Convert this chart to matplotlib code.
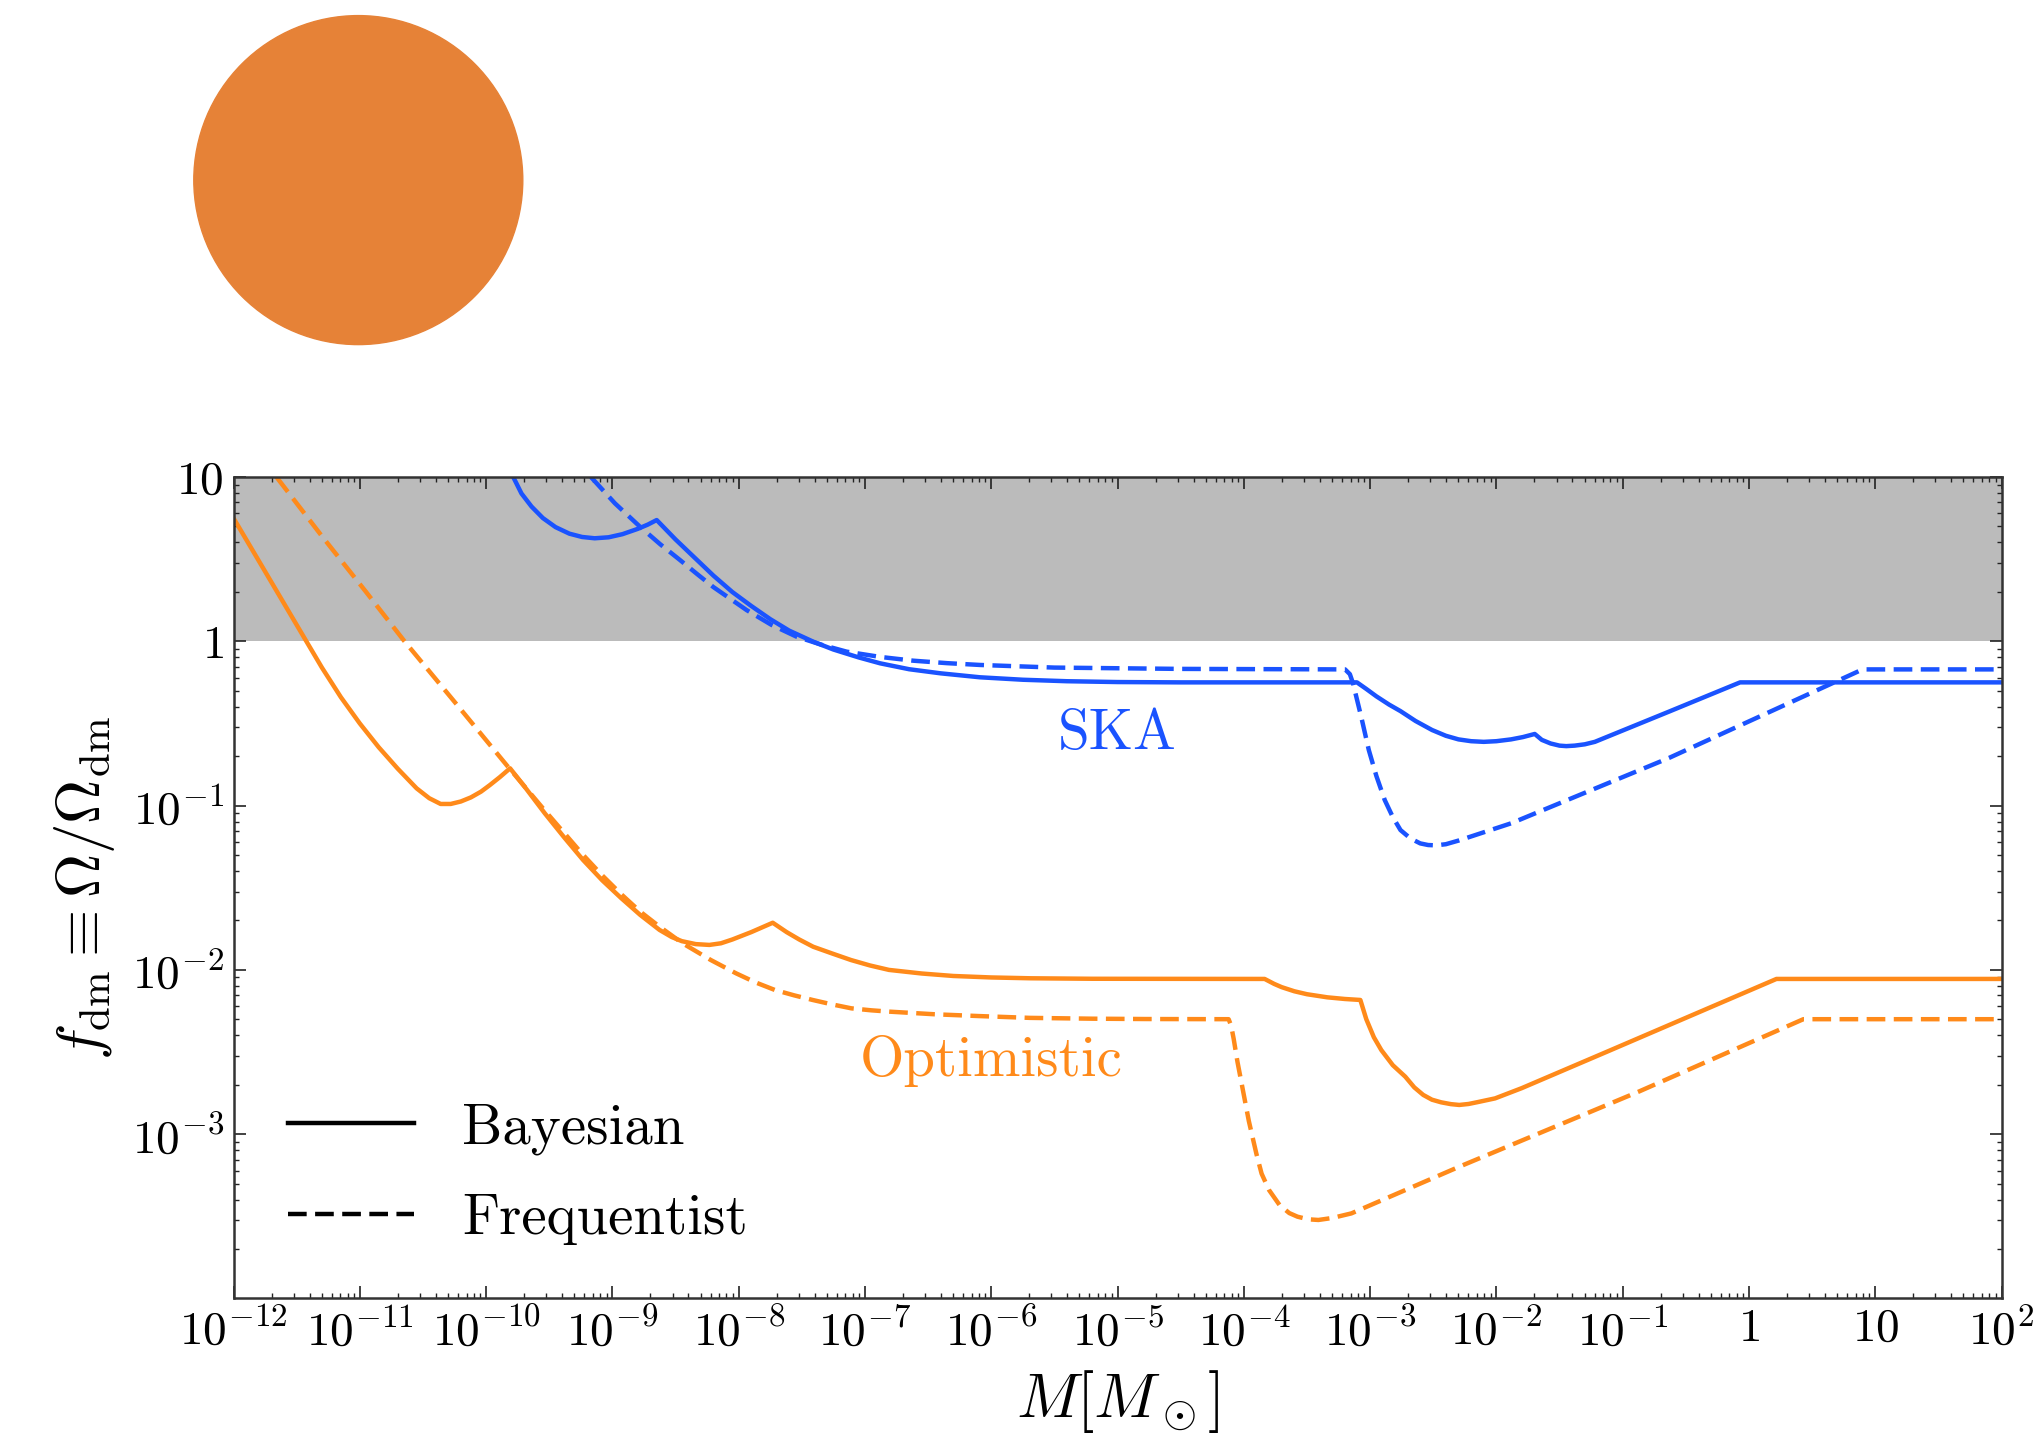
import numpy as np
import matplotlib
matplotlib.use("Agg")
import matplotlib.pyplot as plt
from matplotlib.lines import Line2D
from matplotlib.patches import Ellipse
from matplotlib.ticker import LogLocator, NullFormatter

plt.rcParams["font.family"] = "serif"
plt.rcParams["font.serif"] = ["cmr10"]
plt.rcParams["mathtext.fontset"] = "cm"
plt.rcParams["axes.unicode_minus"] = False
plt.rcParams["axes.formatter.use_mathtext"] = True

# ---- data: log10(M / M_sun) and log10(f_dm) along each bound ----
ska_bayes_logM = [-9.785, -9.72, -9.64, -9.55, -9.45, -9.34, -9.24, -9.14,
                  -9.03, -8.92, -8.80, -8.72, -8.649,
                  -8.50, -8.35, -8.20, -8.05, -7.90, -7.75, -7.60, -7.41,
                  -7.25, -7.05, -6.88, -6.65, -6.40, -6.09, -5.75, -5.40,
                  -5.00, -4.50, -3.104,
                  -3.03, -2.95, -2.85, -2.759, -2.64, -2.509, -2.40, -2.30,
                  -2.20, -2.10, -2.00, -1.884, -1.79, -1.696,
                  -1.64, -1.57, -1.50, -1.446, -1.38, -1.30, -1.22,
                  -0.633, -0.070, 2.0]
ska_bayes_logf = [1.0, 0.90, 0.82, 0.75, 0.695, 0.655, 0.635, 0.627,
                  0.633, 0.652, 0.684, 0.71, 0.738,
                  0.62, 0.51, 0.40, 0.30, 0.215, 0.135, 0.065, -0.002,
                  -0.05, -0.098, -0.134, -0.17, -0.195, -0.219, -0.234, -0.243,
                  -0.248, -0.25, -0.25,
                  -0.29, -0.335, -0.385, -0.425, -0.485, -0.54, -0.575, -0.597,
                  -0.608, -0.612, -0.608, -0.597, -0.583, -0.564,
                  -0.600, -0.622, -0.635, -0.638, -0.635, -0.627, -0.612,
                  -0.428, -0.250, -0.250]

ska_freq_logM = [-9.17, -8.98, -8.782, -8.62, -8.465, -8.33, -8.20, -7.937,
                 -7.74, -7.541, -7.34, -7.145, -6.88, -6.618, -6.35, -6.089,
                 -5.50, -4.50, -3.198,
                 -3.16, -3.135, -3.07, -3.010, -2.95, -2.884, -2.82, -2.759,
                 -2.68, -2.603, -2.54, -2.478, -2.40, -2.30, -1.884,
                 -0.633, 0.900, 2.0]
ska_freq_logf = [1.0, 0.84, 0.698, 0.59, 0.495, 0.41, 0.33, 0.190,
                 0.10, 0.028, -0.022, -0.063, -0.095, -0.118, -0.133, -0.144,
                 -0.160, -0.168, -0.171,
                 -0.20, -0.256, -0.46, -0.662, -0.82, -0.966, -1.07, -1.149,
                 -1.20, -1.230, -1.240, -1.242, -1.235, -1.213, -1.108,
                 -0.71, -0.171, -0.171]

opt_bayes_logM = [-12.0, -11.80, -11.60, -11.45, -11.30, -11.15, -11.00,
                  -10.85, -10.70, -10.55, -10.45, -10.36,
                  -10.28, -10.20, -10.12, -10.04, -9.97, -9.89, -9.81,
                  -9.68, -9.535, -9.38, -9.232, -9.08, -8.929, -8.78, -8.626,
                  -8.53, -8.45, -8.34, -8.232, -8.14, -8.05, -7.90, -7.73,
                  -7.62, -7.52, -7.41, -7.26, -7.11, -6.96, -6.81, -6.55,
                  -6.30, -6.00, -5.69, -5.20, -3.835,
                  -3.76, -3.70, -3.60, -3.50, -3.338, -3.20, -3.077,
                  -3.03, -2.97, -2.911, -2.82, -2.721, -2.65, -2.579, -2.51,
                  -2.437, -2.36, -2.294, -2.22, -2.15, -2.01, -1.80, -1.109,
                  0.218, 2.0]
opt_bayes_logf = [0.75, 0.49, 0.23, 0.035, -0.16, -0.34, -0.50,
                  -0.645, -0.775, -0.895, -0.955, -0.99,
                  -0.99, -0.975, -0.950, -0.915, -0.875, -0.826, -0.773,
                  -0.90, -1.047, -1.195, -1.331, -1.455, -1.564, -1.665, -1.757,
                  -1.80, -1.825, -1.843, -1.848, -1.838, -1.815, -1.770, -1.713,
                  -1.77, -1.815, -1.859, -1.90, -1.94, -1.973, -2.000, -2.022,
                  -2.037, -2.046, -2.051, -2.054, -2.055,
                  -2.085, -2.105, -2.13, -2.148, -2.167, -2.177, -2.183,
                  -2.30, -2.41, -2.488, -2.58, -2.650, -2.715, -2.761, -2.79,
                  -2.806, -2.817, -2.822, -2.816, -2.805, -2.782, -2.72, -2.493,
                  -2.055, -2.055]

opt_freq_logM = [-11.66, -11.30, -10.95, -10.646, -10.262, -9.838, -9.535,
                 -9.232, -9.08, -8.929, -8.78, -8.626, -8.444, -8.22, -8.02,
                 -7.87, -7.714, -7.56, -7.414, -7.26, -7.107, -6.95, -6.808,
                 -6.45, -6.097, -5.694, -5.20, -4.783, -4.12,
                 -4.10, -4.08, -4.05, -4.00, -3.96, -3.90, -3.859, -3.80,
                 -3.717, -3.64, -3.575, -3.49, -3.409, -3.30, -3.148, -2.294,
                 -0.873, 0.431, 2.0]
opt_freq_logf = [1.0, 0.64, 0.30, 0.0, -0.357, -0.753, -1.03,
                 -1.300, -1.425, -1.54, -1.645, -1.737, -1.838, -1.94, -2.021,
                 -2.075, -2.122, -2.155, -2.183, -2.21, -2.234, -2.246, -2.254,
                 -2.27, -2.281, -2.292, -2.297, -2.299, -2.300,
                 -2.34, -2.42, -2.56, -2.76, -2.92, -3.12, -3.24, -3.34,
                 -3.431, -3.48, -3.502, -3.518, -3.522, -3.51, -3.482, -3.198,
                 -2.741, -2.300, -2.300]

x_ticks = [1e-12, 1e-11, 1e-10, 1e-9, 1e-8, 1e-7, 1e-6, 1e-5, 1e-4, 1e-3,
           1e-2, 1e-1, 1, 10, 1e2]
x_ticklabels = [r"$10^{-12}$", r"$10^{-11}$", r"$10^{-10}$", r"$10^{-9}$",
                r"$10^{-8}$", r"$10^{-7}$", r"$10^{-6}$", r"$10^{-5}$",
                r"$10^{-4}$", r"$10^{-3}$", r"$10^{-2}$", r"$10^{-1}$",
                r"$1$", r"$10$", r"$10^{2}$"]
y_ticks = [1e-3, 1e-2, 1e-1, 1, 10]
y_ticklabels = [r"$10^{-3}$", r"$10^{-2}$", r"$10^{-1}$", r"$1$", r"$10$"]

BLUE = "#1A53FF"
ORANGE = "#FF8A1A"
LW = 3.2
DASH = (4.2, 1.9)

fig = plt.figure(figsize=(20.39, 14.38), dpi=100)
ax = fig.add_axes([0.11452, 0.09701, 0.86709, 0.57128])

# decorative disc in the upper-left corner
fig.patches.append(Ellipse((358.3 / 2039, 1 - 180.1 / 1438),
                           2 * 164.5 / 2039, 2 * 164.5 / 1438,
                           transform=fig.transFigure, color="#E68237",
                           zorder=0))

ax.set_xscale("log")
ax.set_yscale("log")

# excluded region f_dm > 1
ax.axhspan(1, 10, color="#BBBBBB", zorder=0, lw=0)


def pw(a):
    return 10.0 ** np.asarray(a)


ax.plot(pw(ska_bayes_logM), pw(ska_bayes_logf), color=BLUE, lw=LW, zorder=3)
ax.plot(pw(ska_freq_logM), pw(ska_freq_logf), color=BLUE, lw=LW,
        dashes=DASH, zorder=3)
ax.plot(pw(opt_bayes_logM), pw(opt_bayes_logf), color=ORANGE, lw=LW, zorder=3)
ax.plot(pw(opt_freq_logM), pw(opt_freq_logf), color=ORANGE, lw=LW,
        dashes=DASH, zorder=3)

ax.set_xlim(1e-12, 1e2)
ax.set_ylim(1e-4, 10)

ax.set_xticks(x_ticks)
ax.set_xticklabels(x_ticklabels)
ax.set_yticks(y_ticks)
ax.set_yticklabels(y_ticklabels)
for axis in (ax.xaxis, ax.yaxis):
    axis.set_minor_locator(LogLocator(base=10, subs=np.arange(2, 10),
                                      numticks=100))
    axis.set_minor_formatter(NullFormatter())

ax.tick_params(which="both", direction="in", top=True, right=True,
               labelsize=34, pad=7, color="#222222")
ax.tick_params(which="major", length=8.4, width=1.2)
ax.tick_params(which="minor", length=3.6, width=1.0)
for sp in ax.spines.values():
    sp.set_linewidth(1.8)
    sp.set_color("#333333")
    sp.set_zorder(5)

ax.set_xlabel(r"$M[M_\odot]$", fontsize=45)
ax.set_ylabel(r"$f_{\rm dm}\equiv\Omega/\Omega_{\rm dm}$", fontsize=44)
ax.xaxis.set_label_coords(0.5, -0.084)
ax.yaxis.set_label_coords(-0.066, 0.5)

ax.text(1e-5, 10 ** -0.656, "SKA", color=BLUE, fontsize=41, ha="center",
        va="baseline", zorder=4)
ax.text(1e-6, 10 ** -2.646, "Optimistic", color=ORANGE, fontsize=41,
        ha="center", va="baseline", zorder=4)

handles = [Line2D([], [], color="black", lw=LW),
           Line2D([], [], color="black", lw=LW, dashes=DASH)]
ax.legend(handles, ["Bayesian", "Frequentist"], loc="upper left",
          bbox_to_anchor=(0.031, 0.238), frameon=False, fontsize=41,
          handlelength=2.2, handletextpad=0.85, labelspacing=0.68,
          borderpad=0, borderaxespad=0)

fig.savefig("out.png", dpi=100)
